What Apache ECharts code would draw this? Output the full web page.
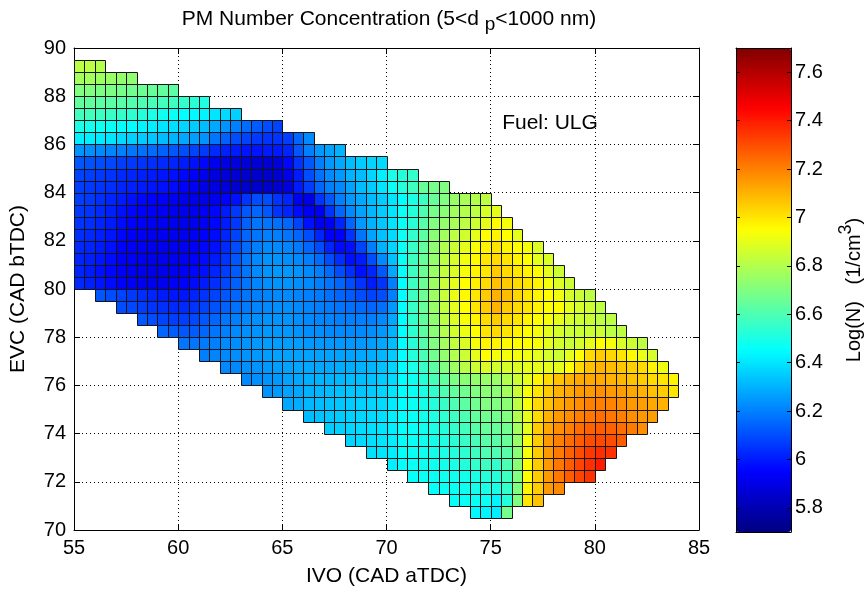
<!DOCTYPE html>
<html><head><meta charset="utf-8">
<script src="https://cdn.jsdelivr.net/npm/echarts@6/dist/echarts.min.js"></script>
<style>html,body{margin:0;padding:0;background:#fff}#c{width:867px;height:592px}</style>
</head><body><div id="c"></div>
<script>
// ---------------- data ----------------
const CELL = 0.5;                       // cell size in data units (x and y)
const xTicks = [55, 60, 65, 70, 75, 80, 85];
const yTicks = [70, 72, 74, 76, 78, 80, 82, 84, 86, 88, 90];
const cbTicks = [5.8, 6, 6.2, 6.4, 6.6, 6.8, 7, 7.2, 7.4, 7.6];
const cbRange = [5.7, 7.7];

// one array per row (row lower edge y), values from left to right starting at rowFirstX
const r89   = [6.82, 6.82, 6.80];
const r88_5 = [6.77, 6.77, 6.76, 6.75, 6.74, 6.73];
const r88   = [6.70, 6.70, 6.69, 6.69, 6.68, 6.67, 6.66, 6.65, 6.64, 6.63];
const r87_5 = [6.64, 6.64, 6.63, 6.63, 6.62, 6.61, 6.60, 6.59, 6.58, 6.57, 6.55, 6.53, 6.51];
const r87   = [6.58, 6.58, 6.57, 6.56, 6.55, 6.54, 6.52, 6.50, 6.48, 6.47, 6.45, 6.44, 6.43, 6.40, 6.38, 6.36];
const r86_5 = [6.50, 6.49, 6.48, 6.47, 6.46, 6.45, 6.43, 6.42, 6.40, 6.39, 6.37, 6.35, 6.32, 6.28, 6.24, 6.20, 6.16, 6.13, 6.10, 6.08];
const r86   = [6.42, 6.42, 6.41, 6.40, 6.38, 6.36, 6.35, 6.34, 6.32, 6.30, 6.28, 6.26, 6.24, 6.18, 6.14, 6.10, 6.08, 6.06, 6.05, 6.05, 6.07, 6.15, 6.22];
const r85_5 = [6.24, 6.23, 6.22, 6.21, 6.20, 6.18, 6.17, 6.16, 6.14, 6.12, 6.10, 6.08, 6.06, 6.03, 6.01, 6.00, 5.99, 5.99, 6.00, 6.00, 6.02, 6.12, 6.20, 6.25, 6.27, 6.30];
const r85   = [6.12, 6.11, 6.10, 6.09, 6.07, 6.06, 6.05, 6.04, 6.03, 6.02, 6.00, 5.98, 5.96, 5.92, 5.90, 5.89, 5.88, 5.87, 5.87, 5.88, 5.96, 6.05, 6.12, 6.20, 6.25, 6.28, 6.32, 6.35, 6.37, 6.38];
const r84_5 = [6.08, 6.07, 6.06, 6.05, 6.03, 6.02, 6.01, 6.00, 5.99, 5.98, 5.96, 5.94, 5.91, 5.89, 5.88, 5.87, 5.86, 5.85, 5.85, 5.86, 5.91, 6.00, 6.10, 6.17, 6.22, 6.25, 6.30, 6.32, 6.37, 6.42, 6.50, 6.52, 6.55];
const r84   = [6.07, 6.06, 6.05, 6.04, 6.02, 6.01, 6.00, 5.99, 5.98, 5.97, 5.95, 5.93, 5.90, 5.89, 5.88, 5.86, 5.85, 5.85, 5.85, 5.86, 5.89, 6.00, 6.07, 6.15, 6.20, 6.22, 6.27, 6.32, 6.35, 6.40, 6.47, 6.52, 6.57, 6.65, 6.68, 6.70];
const r83_5 = [6.07, 6.06, 6.04, 6.02, 6.00, 5.98, 5.96, 5.95, 5.94, 5.93, 5.92, 5.91, 5.91, 5.92, 5.95, 5.98, 6.05, 6.10, 6.10, 6.05, 6.02, 5.92, 5.90, 6.05, 6.12, 6.20, 6.25, 6.28, 6.32, 6.35, 6.40, 6.45, 6.50, 6.57, 6.65, 6.70, 6.75, 6.78, 6.80, 6.82];
const r83   = [6.06, 6.05, 6.03, 6.01, 5.98, 5.96, 5.95, 5.94, 5.93, 5.92, 5.92, 5.92, 5.93, 5.96, 6.00, 6.06, 6.12, 6.15, 6.12, 6.05, 6.02, 5.97, 5.92, 5.92, 6.05, 6.15, 6.22, 6.27, 6.31, 6.35, 6.40, 6.47, 6.52, 6.60, 6.68, 6.72, 6.77, 6.80, 6.82, 6.87, 6.90];
const r82_5 = [6.05, 6.04, 6.02, 6.00, 5.97, 5.95, 5.94, 5.93, 5.92, 5.92, 5.92, 5.92, 5.93, 5.96, 6.00, 6.06, 6.14, 6.18, 6.18, 6.17, 6.15, 6.08, 5.98, 5.92, 5.93, 6.02, 6.15, 6.25, 6.30, 6.34, 6.40, 6.47, 6.53, 6.62, 6.70, 6.74, 6.78, 6.82, 6.85, 6.90, 6.95, 6.93];
const r82   = [6.04, 6.03, 6.01, 5.99, 5.96, 5.94, 5.93, 5.92, 5.92, 5.92, 5.92, 5.93, 5.95, 5.97, 6.02, 6.08, 6.15, 6.18, 6.20, 6.20, 6.18, 6.15, 6.10, 6.02, 5.95, 5.95, 6.05, 6.18, 6.27, 6.33, 6.38, 6.47, 6.55, 6.63, 6.72, 6.77, 6.82, 6.86, 6.90, 6.95, 6.97, 6.95, 6.90];
const r81_5 = [6.03, 6.02, 6.00, 5.98, 5.95, 5.94, 5.93, 5.92, 5.92, 5.92, 5.93, 5.94, 5.96, 5.98, 6.03, 6.10, 6.16, 6.20, 6.22, 6.22, 6.21, 6.19, 6.15, 6.10, 6.02, 5.97, 5.98, 6.08, 6.20, 6.30, 6.37, 6.47, 6.56, 6.64, 6.73, 6.80, 6.85, 6.90, 6.94, 6.97, 7.00, 6.97, 6.95, 6.93, 6.88];
const r81   = [6.02, 6.01, 5.99, 5.97, 5.94, 5.93, 5.92, 5.91, 5.91, 5.92, 5.93, 5.95, 5.97, 6.00, 6.05, 6.12, 6.18, 6.22, 6.24, 6.24, 6.23, 6.22, 6.20, 6.16, 6.10, 6.04, 5.98, 6.00, 6.10, 6.22, 6.33, 6.47, 6.57, 6.65, 6.74, 6.82, 6.87, 6.92, 6.96, 7.00, 7.02, 7.00, 6.97, 6.95, 6.90, 6.88];
const r80_5 = [6.02, 6.00, 5.98, 5.96, 5.94, 5.92, 5.91, 5.91, 5.91, 5.92, 5.94, 5.96, 5.98, 6.02, 6.07, 6.13, 6.18, 6.22, 6.24, 6.25, 6.25, 6.24, 6.22, 6.20, 6.16, 6.10, 6.04, 5.98, 6.02, 6.12, 6.28, 6.46, 6.57, 6.66, 6.75, 6.83, 6.88, 6.93, 6.97, 7.00, 7.05, 7.02, 7.00, 6.97, 6.95, 6.90, 6.85];
const r80   = [6.03, 6.01, 5.99, 5.97, 5.95, 5.93, 5.92, 5.92, 5.92, 5.94, 5.95, 5.97, 6.00, 6.04, 6.09, 6.14, 6.18, 6.21, 6.23, 6.24, 6.24, 6.23, 6.22, 6.20, 6.18, 6.15, 6.10, 6.05, 6.00, 6.05, 6.20, 6.45, 6.57, 6.66, 6.76, 6.84, 6.90, 6.95, 6.98, 7.02, 7.07, 7.05, 7.02, 7.00, 6.97, 6.93, 6.88, 6.85];
const r79_5 = [6.12, 6.10, 6.08, 6.06, 6.04, 6.02, 6.00, 5.99, 5.99, 6.02, 6.05, 6.08, 6.12, 6.15, 6.18, 6.20, 6.21, 6.22, 6.22, 6.21, 6.20, 6.19, 6.17, 6.15, 6.13, 6.10, 6.08, 6.10, 6.20, 6.45, 6.57, 6.66, 6.76, 6.84, 6.91, 6.96, 7.00, 7.05, 7.10, 7.08, 7.03, 7.00, 6.97, 6.95, 6.92, 6.87, 6.85, 6.82];
const r79   = [6.10, 6.09, 6.07, 6.05, 6.04, 6.03, 6.03, 6.05, 6.08, 6.11, 6.14, 6.17, 6.19, 6.21, 6.22, 6.23, 6.23, 6.22, 6.21, 6.20, 6.19, 6.18, 6.17, 6.16, 6.15, 6.17, 6.25, 6.45, 6.56, 6.65, 6.75, 6.83, 6.90, 6.95, 7.00, 7.05, 7.10, 7.05, 7.02, 7.00, 6.97, 6.95, 6.95, 6.90, 6.87, 6.85, 6.82];
const r78_5 = [6.12, 6.10, 6.08, 6.07, 6.07, 6.09, 6.12, 6.15, 6.18, 6.20, 6.22, 6.23, 6.24, 6.24, 6.24, 6.23, 6.22, 6.21, 6.21, 6.20, 6.20, 6.20, 6.20, 6.22, 6.28, 6.45, 6.55, 6.64, 6.73, 6.82, 6.88, 6.93, 6.97, 7.02, 7.05, 7.02, 7.00, 6.97, 6.95, 6.93, 6.90, 6.87, 6.85, 6.85, 6.82, 6.82];
const r78   = [6.15, 6.13, 6.12, 6.13, 6.15, 6.18, 6.20, 6.22, 6.23, 6.24, 6.25, 6.25, 6.25, 6.24, 6.23, 6.23, 6.22, 6.22, 6.22, 6.22, 6.23, 6.25, 6.30, 6.45, 6.54, 6.63, 6.72, 6.80, 6.86, 6.91, 6.95, 7.00, 7.02, 7.00, 6.97, 6.95, 6.93, 6.90, 6.87, 6.85, 6.85, 6.85, 6.85, 6.82, 6.82];
const r77_5 = [6.18, 6.18, 6.19, 6.20, 6.22, 6.23, 6.24, 6.25, 6.26, 6.26, 6.26, 6.26, 6.25, 6.25, 6.25, 6.25, 6.25, 6.25, 6.26, 6.28, 6.32, 6.45, 6.53, 6.61, 6.70, 6.77, 6.83, 6.88, 6.93, 6.97, 6.97, 6.96, 6.95, 6.95, 6.94, 6.90, 6.87, 6.85, 6.87, 6.90, 6.95, 6.93, 6.88, 6.85, 6.82];
const r77   = [6.20, 6.21, 6.22, 6.23, 6.24, 6.25, 6.26, 6.27, 6.27, 6.27, 6.27, 6.27, 6.27, 6.27, 6.27, 6.28, 6.29, 6.31, 6.35, 6.45, 6.52, 6.59, 6.67, 6.74, 6.80, 6.85, 6.90, 6.95, 6.93, 6.93, 6.93, 6.92, 6.90, 6.87, 6.85, 6.90, 6.95, 7.02, 7.05, 7.03, 7.00, 6.96, 6.91, 6.87];
const r76_5 = [6.22, 6.22, 6.23, 6.24, 6.25, 6.26, 6.27, 6.28, 6.28, 6.28, 6.28, 6.29, 6.29, 6.30, 6.31, 6.33, 6.37, 6.45, 6.50, 6.56, 6.63, 6.70, 6.76, 6.81, 6.85, 6.88, 6.86, 6.87, 6.88, 6.90, 6.90, 6.90, 6.90, 6.95, 7.02, 7.07, 7.10, 7.08, 7.06, 7.04, 7.02, 6.97, 6.92];
const r76   = [6.22, 6.23, 6.24, 6.25, 6.27, 6.28, 6.29, 6.30, 6.30, 6.31, 6.32, 6.32, 6.33, 6.35, 6.38, 6.45, 6.48, 6.53, 6.59, 6.64, 6.69, 6.72, 6.74, 6.75, 6.75, 6.80, 6.85, 6.90, 6.97, 7.02, 7.07, 7.10, 7.12, 7.12, 7.12, 7.10, 7.09, 7.07, 7.05, 7.02, 7.00, 6.97];
const r75_5 = [6.24, 6.25, 6.27, 6.28, 6.30, 6.31, 6.32, 6.33, 6.34, 6.34, 6.35, 6.37, 6.40, 6.45, 6.47, 6.50, 6.55, 6.60, 6.64, 6.67, 6.70, 6.72, 6.72, 6.77, 6.85, 6.93, 7.00, 7.05, 7.10, 7.12, 7.15, 7.15, 7.17, 7.15, 7.14, 7.12, 7.10, 7.07, 7.05, 7.00];
const r75   = [6.28, 6.29, 6.31, 6.32, 6.33, 6.34, 6.35, 6.36, 6.37, 6.38, 6.41, 6.45, 6.47, 6.49, 6.52, 6.56, 6.60, 6.63, 6.67, 6.70, 6.70, 6.72, 6.82, 6.93, 7.02, 7.07, 7.12, 7.15, 7.17, 7.20, 7.20, 7.19, 7.17, 7.15, 7.14, 7.12, 7.10];
const r74_5 = [6.32, 6.33, 6.34, 6.35, 6.36, 6.37, 6.38, 6.39, 6.42, 6.46, 6.47, 6.49, 6.51, 6.54, 6.57, 6.60, 6.64, 6.67, 6.67, 6.70, 6.80, 6.90, 7.02, 7.10, 7.15, 7.17, 7.20, 7.22, 7.24, 7.22, 7.20, 7.17, 7.15, 7.14];
const r74   = [6.35, 6.36, 6.37, 6.38, 6.39, 6.40, 6.42, 6.46, 6.47, 6.48, 6.50, 6.52, 6.55, 6.58, 6.62, 6.65, 6.65, 6.67, 6.77, 6.90, 7.05, 7.12, 7.17, 7.20, 7.24, 7.26, 7.27, 7.26, 7.24, 7.21, 7.17];
const r73_5 = [6.37, 6.38, 6.39, 6.40, 6.42, 6.46, 6.47, 6.48, 6.49, 6.51, 6.53, 6.56, 6.59, 6.62, 6.62, 6.65, 6.75, 6.93, 7.05, 7.15, 7.20, 7.24, 7.27, 7.30, 7.31, 7.30, 7.27];
const r73   = [6.39, 6.40, 6.42, 6.46, 6.47, 6.48, 6.49, 6.50, 6.52, 6.54, 6.57, 6.60, 6.60, 6.62, 6.72, 6.93, 7.05, 7.15, 7.21, 7.26, 7.30, 7.34, 7.36, 7.35];
const r72_5 = [6.42, 6.46, 6.47, 6.48, 6.48, 6.49, 6.50, 6.52, 6.55, 6.57, 6.55, 6.60, 6.72, 6.95, 7.05, 7.15, 7.22, 7.27, 7.32, 7.36, 7.40];
const r72   = [6.46, 6.47, 6.47, 6.48, 6.48, 6.49, 6.50, 6.52, 6.52, 6.57, 6.70, 6.95, 7.05, 7.15, 7.22, 7.27, 7.32, 7.35];
const r71_5 = [6.46, 6.47, 6.47, 6.48, 6.49, 6.50, 6.50, 6.55, 6.70, 6.97, 7.05, 7.15, 7.18];
const r71   = [6.46, 6.47, 6.47, 6.47, 6.43, 6.52, 6.70, 7.00, 7.07];
const r70_5 = [6.44, 6.43, 6.42, 6.68];

const rowY      = [89, 88.5, 88, 87.5, 87, 86.5, 86, 85.5, 85, 84.5, 84, 83.5, 83, 82.5, 82, 81.5, 81, 80.5, 80,
                   79.5, 79, 78.5, 78, 77.5, 77, 76.5, 76, 75.5, 75, 74.5, 74, 73.5, 73, 72.5, 72, 71.5, 71, 70.5];
const rowFirstX = [55, 55, 55, 55, 55, 55, 55, 55, 55, 55, 55, 55, 55, 55, 55, 55, 55, 55, 55,
                   56, 57, 58, 59, 60, 61, 62, 63, 64, 65, 66, 67, 68, 69, 70, 71, 72, 73, 74];
const rowValues = [r89, r88_5, r88, r87_5, r87, r86_5, r86, r85_5, r85, r84_5, r84, r83_5, r83, r82_5, r82, r81_5, r81, r80_5, r80,
                   r79_5, r79, r78_5, r78, r77_5, r77, r76_5, r76, r75_5, r75, r74_5, r74, r73_5, r73, r72_5, r72, r71_5, r71, r70_5];
const annotation = {text: 'Fuel: ULG', x: 75.55, y: 86.9};

// ---------------- chart ----------------
const FONT = "'Liberation Sans', Arial, Helvetica, sans-serif";
const jet = ['#000080', '#0000ff', '#0080ff', '#00ffff', '#80ff80', '#ffff00', '#ff8000', '#ff0000', '#800000'];

const cells = [];
rowY.forEach(function (y, i) {
  rowValues[i].forEach(function (v, j) { cells.push([rowFirstX[i] + j * CELL, y, v]); });
});

const chart = echarts.init(document.getElementById('c'), null, {renderer: 'canvas'});
const txt = {fontFamily: FONT, color: '#000', fontWeight: 'normal'};
const blackLine = {show: true, onZero: false, lineStyle: {color: '#000', width: 1}};

chart.setOption({
  animation: false,
  backgroundColor: '#fff',
  title: {
    text: '{a|PM Number Concentration (5<d }{s|p}{a|<1000 nm)}',
    left: 384, top: 4, textAlign: 'center',
    textStyle: {fontWeight: 'normal', rich: {
      a: {fontFamily: FONT, fontSize: 21, fontWeight: 'normal', color: '#000', lineHeight: 26, verticalAlign: 'top'},
      s: {fontFamily: FONT, fontSize: 19, fontWeight: 'normal', color: '#000', lineHeight: 26, verticalAlign: 'top', padding: [6, 0, 0, 0]}
    }}
  },
  grid: [
    {left: 73, top: 48, width: 626, height: 483},
    {left: 736, top: 48, width: 55, height: 484}
  ],
  xAxis: [
    {gridIndex: 0, type: 'value', min: 55, max: 85, interval: 5, position: 'bottom',
     axisLine: blackLine,
     axisTick: {show: true, inside: true, length: 6, lineStyle: {color: '#000'}, customValues: xTicks},
     axisLabel: Object.assign({fontSize: 20, margin: 8, customValues: xTicks}, txt),
     splitLine: {show: true, lineStyle: {color: '#000', width: 1, type: [1, 3]}},
     name: 'IVO (CAD aTDC)', nameLocation: 'middle', nameGap: 36,
     nameTextStyle: Object.assign({fontSize: 21}, txt)},
    {gridIndex: 0, type: 'value', min: 55, max: 85, interval: 5, position: 'top',
     axisLine: blackLine,
     axisTick: {show: true, inside: true, length: 6, lineStyle: {color: '#000'}},
     axisLabel: {show: false}, splitLine: {show: false}},
    {gridIndex: 1, type: 'value', min: 0, max: 1, position: 'bottom', z: 10,
     axisLine: blackLine, axisTick: {show: false}, axisLabel: {show: false}, splitLine: {show: false}},
    {gridIndex: 1, type: 'value', min: 0, max: 1, position: 'top', z: 10,
     axisLine: blackLine, axisTick: {show: false}, axisLabel: {show: false}, splitLine: {show: false}}
  ],
  yAxis: [
    {gridIndex: 0, type: 'value', min: 70, max: 90, interval: 2, position: 'left',
     axisLine: blackLine,
     axisTick: {show: true, inside: true, length: 6, lineStyle: {color: '#000'}, customValues: yTicks},
     axisLabel: Object.assign({fontSize: 20, margin: 8, customValues: yTicks}, txt),
     splitLine: {show: true, lineStyle: {color: '#000', width: 1, type: [1, 3]}},
     name: 'EVC (CAD bTDC)', nameLocation: 'middle', nameGap: 45, nameRotate: 90,
     nameTextStyle: Object.assign({fontSize: 21}, txt)},
    {gridIndex: 0, type: 'value', min: 70, max: 90, interval: 2, position: 'right',
     axisLine: blackLine,
     axisTick: {show: true, inside: true, length: 6, lineStyle: {color: '#000'}},
     axisLabel: {show: false}, splitLine: {show: false}},
    {gridIndex: 1, type: 'value', min: cbRange[0], max: cbRange[1], position: 'left', z: 10,
     axisLine: blackLine,
     axisTick: {show: true, inside: true, length: 4, lineStyle: {color: '#000'}, customValues: cbTicks},
     axisLabel: {show: false}, splitLine: {show: false}},
    {gridIndex: 1, type: 'value', min: cbRange[0], max: cbRange[1], position: 'right', z: 10,
     axisLine: blackLine,
     axisTick: {show: true, inside: true, length: 4, lineStyle: {color: '#000'}, customValues: cbTicks},
     axisLabel: Object.assign({fontSize: 20, margin: 4, customValues: cbTicks}, txt),
     splitLine: {show: false},
     name: '{a|Log(N)   (1/cm}{u|3}{a|)}', nameLocation: 'middle', nameGap: 47, nameRotate: 90,
     nameTextStyle: {rich: {
       a: {fontFamily: FONT, fontSize: 20, color: '#000', lineHeight: 26, verticalAlign: 'bottom'},
       u: {fontFamily: FONT, fontSize: 18, color: '#000', lineHeight: 26, verticalAlign: 'bottom', padding: [0, 0, 9, 0]}
     }}}
  ],
  visualMap: {
    type: 'continuous', min: cbRange[0], max: cbRange[1], dimension: 2, seriesIndex: 0,
    calculable: false, show: true, orient: 'vertical',
    left: 736, top: 48, itemWidth: 55, itemHeight: 484, padding: 0, text: null,
    inRange: {color: jet}
  },
  series: [
    {
      type: 'custom', xAxisIndex: 0, yAxisIndex: 0, silent: true,
      encode: {x: 0, y: 1},
      data: cells,
      renderItem: function (params, api) {
        const x = api.value(0), y = api.value(1);
        const a = api.coord([x, y + CELL]);
        const b = api.coord([x + CELL, y]);
        const x0 = Math.round(a[0]) + 0.5, y0 = Math.round(a[1]) + 0.5;
        const x1 = Math.round(b[0]) + 0.5, y1 = Math.round(b[1]) + 0.5;
        return {
          type: 'rect',
          shape: {x: x0, y: y0, width: x1 - x0, height: y1 - y0},
          style: {fill: api.visual('color'), stroke: '#141414', lineWidth: 1}
        };
      }
    },
    {
      type: 'scatter', xAxisIndex: 0, yAxisIndex: 0, silent: true, symbolSize: 0,
      itemStyle: {opacity: 1},
      data: [[annotation.x, annotation.y]],
      label: {show: true, position: 'right', distance: 0, formatter: annotation.text,
              fontFamily: FONT, fontSize: 21, color: '#000', opacity: 1}
    }
  ]
});
</script></body></html>
